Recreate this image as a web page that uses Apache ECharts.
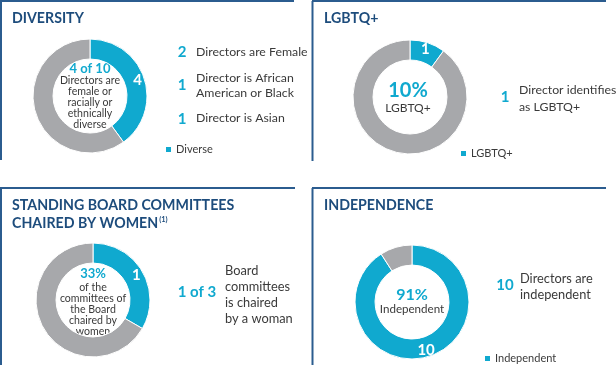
<!DOCTYPE html>
<html><head><meta charset="utf-8">
<script src="https://cdn.jsdelivr.net/npm/echarts@6/dist/echarts.min.js"></script>
<style>html,body{margin:0;padding:0;background:#fff}#c{width:616px;height:365px}</style>
</head><body><div id="c"></div>
<script>
// ---- data ----
const diversityNames = ['Diverse', 'Not diverse'];
const diversityValues = [4, 6];
const diversityBreakdownValues = [2, 1, 1];
const diversityBreakdownLabels = ['Directors are Female', 'Director is African\nAmerican or Black', 'Director is Asian'];

const lgbtqNames = ['LGBTQ+', 'Not LGBTQ+'];
const lgbtqValues = [1, 9];

const committeeNames = ['Chaired by women', 'Chaired by men'];
const committeeValues = [1, 2];

const independenceNames = ['Independent', 'Not independent'];
const independenceValues = [10, 1];

const titles = ['DIVERSITY', 'LGBTQ+', 'STANDING BOARD COMMITTEES', 'CHAIRED BY WOMEN', 'INDEPENDENCE'];
const titleNote = '(1)';
const centerHeadlines = ['4 of 10', '10%', '33%', '91%'];
const centerCaptions = ['Directors are\nfemale or\nracially or\nethnically\ndiverse', 'LGBTQ+', 'of the\ncommittees of\nthe Board\nchaired by\nwomen', 'Independent'];

// ---- styles ----
const BLUE = '#10a9cf', GRAY = '#a7a8ab', NAVY = '#1d4c7c', BORDER = '#2b5c8f', TXT = '#3a3a3a';
const FF = 'Lato, "Open Sans", sans-serif';
const TITLE_SIZE = 14.2, BODY = 12.3;

const chart = echarts.init(document.getElementById('c'), null, {renderer: 'canvas'});

function pie(names, values, center) {
  return {
    type: 'pie', radius: [37, 57], center: center, startAngle: 90, clockwise: true,
    silent: true, avoidLabelOverlap: false, animation: false,
    itemStyle: {borderColor: '#fff', borderWidth: 1},
    label: {show: true, position: 'inside', color: '#fff', fontWeight: 'bold', fontSize: 15, fontFamily: FF, formatter: '{c}'},
    labelLine: {show: false},
    data: names.map((n, i) => ({
      name: n, value: values[i],
      itemStyle: {color: i === 0 ? BLUE : GRAY},
      label: {show: i === 0}
    }))
  };
}

function txt(x, y, text, opts) {
  opts = opts || {};
  return {
    type: 'text', x: x, y: y, silent: true,
    style: Object.assign({
      text: text, fill: TXT, fontFamily: FF, fontSize: BODY,
      textAlign: 'left', textVerticalAlign: 'middle', align: 'left', verticalAlign: 'middle'
    }, opts)
  };
}
function line(x1, y1, x2, y2) {
  return {type: 'line', silent: true, shape: {x1, y1, x2, y2}, style: {stroke: BORDER, lineWidth: 2}};
}
function num(x, y, t, size) {
  return txt(x, y, String(t), {fill: BLUE, fontWeight: 'bold', fontSize: size || 15, textAlign: 'center', align: 'center'});
}
function center(x, y, t, opts) {
  return txt(x, y, t, Object.assign({textAlign: 'center', align: 'center'}, opts));
}

// width of second title line, to place the footnote marker after it
const mctx = document.createElement('canvas').getContext('2d');
mctx.font = 'bold ' + TITLE_SIZE + 'px ' + FF;
const line2W = mctx.measureText(titles[3]).width;

const T = {fill: NAVY, fontWeight: 'bold', fontSize: TITLE_SIZE};
const graphics = [
  // borders
  line(0, 1, 294, 1), line(1, 0, 1, 160),
  line(312, 1, 606, 1), line(312.5, 1, 312.5, 161),
  line(0, 188, 295, 188), line(1, 188, 1, 365),
  line(312, 188, 606, 188), line(312.5, 188, 312.5, 365),
  // titles
  txt(12, 18, titles[0], T),
  txt(324, 18, titles[1], T),
  txt(12, 205, titles[2], T),
  txt(12, 223, titles[3], T),
  txt(12 + line2W + 1, 220, titleNote, {fill: NAVY, fontWeight: 'bold', fontSize: 7.5}),
  txt(324, 205, titles[4], T),
  // panel 1
  center(90, 69, centerHeadlines[0], {fill: BLUE, fontWeight: 'bold', fontSize: 13}),
  center(90, 102.5, centerCaptions[0], {fontSize: 10.6, lineHeight: 10.8}),
  num(182, 52, diversityBreakdownValues[0]),
  txt(196, 52, diversityBreakdownLabels[0]),
  num(182, 85, diversityBreakdownValues[1]),
  txt(196, 85.5, diversityBreakdownLabels[1], {lineHeight: 15.5}),
  num(182, 119, diversityBreakdownValues[2]),
  txt(196, 118, diversityBreakdownLabels[2]),
  // panel 2
  center(408, 91, centerHeadlines[1], {fill: BLUE, fontWeight: 'bold', fontSize: 20}),
  center(408, 108, centerCaptions[1], {fontSize: 12}),
  num(505, 97, lgbtqValues[0]),
  txt(519, 98.5, 'Director identifies\nas LGBTQ+', {lineHeight: 17}),
  // panel 3
  center(93, 274, centerHeadlines[2], {fill: BLUE, fontWeight: 'bold', fontSize: 13}),
  center(93, 309.5, centerCaptions[2], {fontSize: 10.6, lineHeight: 10.8}),
  num(197, 292, committeeValues[0] + ' of ' + (committeeValues[0] + committeeValues[1])),
  txt(225, 295, 'Board\ncommittees\nis chaired\nby a woman', {lineHeight: 16, fontSize: 12.8}),
  // panel 4
  center(412, 295, centerHeadlines[3], {fill: BLUE, fontWeight: 'bold', fontSize: 16}),
  center(412, 309, centerCaptions[3], {fontSize: 11.6}),
  num(505, 285, independenceValues[0]),
  txt(520, 287, 'Directors are\nindependent', {lineHeight: 16, fontSize: 12.8})
];

function legend(name, left, top) {
  return {
    data: [name], left: left, top: top, orient: 'horizontal', icon: 'rect',
    itemWidth: 7, itemHeight: 7, itemGap: 4, selectedMode: false, padding: 0,
    textStyle: {fontSize: 11, color: TXT, fontFamily: FF, padding: [0, 0, 0, -1]}
  };
}

chart.setOption({
  animation: false,
  backgroundColor: '#fff',
  legend: [
    legend(diversityNames[0], 164, 144),
    legend(lgbtqNames[0], 459, 148),
    legend(independenceNames[0], 483, 353)
  ],
  series: [
    pie(diversityNames, diversityValues, [90, 96]),
    pie(lgbtqNames, lgbtqValues, [410, 97]),
    pie(committeeNames, committeeValues, [93, 300]),
    pie(independenceNames, independenceValues, [412, 302])
  ],
  graphic: graphics
});
</script></body></html>
